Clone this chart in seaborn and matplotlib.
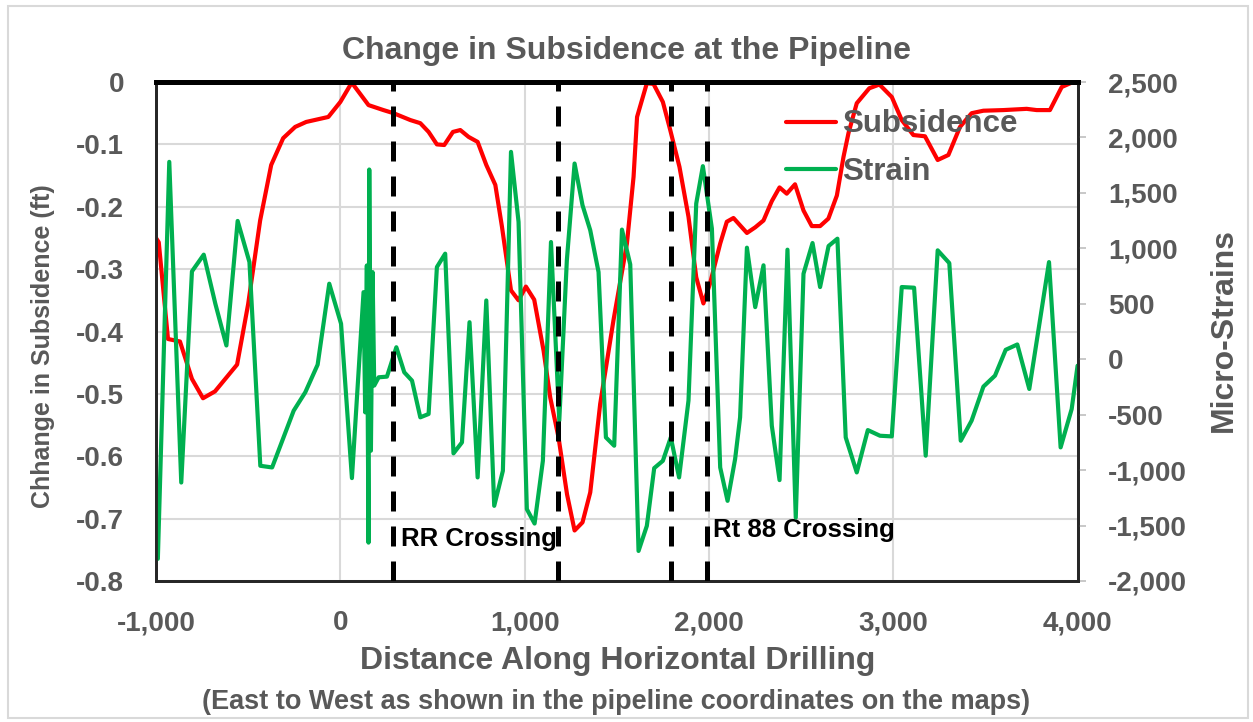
import matplotlib
matplotlib.use("Agg")
import matplotlib.pyplot as plt
import seaborn as sns
import pandas as pd
from matplotlib.patches import Rectangle

# subsidence along the pipeline (ft)
sub_x = [-1000, -985, -935, -870, -805, -745, -680, -560, -500, -435, -375, -310,
         -245, -185, -65, 0, 62, 153, 234, 289, 380, 434, 479, 524, 564, 611, 651,
         696, 745, 792, 841, 877, 926, 967, 1007, 1052, 1103, 1139, 1184, 1230,
         1271, 1314, 1356, 1410, 1482, 1555, 1591, 1610, 1663, 1699, 1750, 1790,
         1840, 1889, 1931, 1970, 2006, 2061, 2097, 2133, 2206, 2251, 2296, 2341,
         2383, 2422, 2467, 2513, 2558, 2603, 2648, 2694, 2730, 2757, 2802, 2870,
         2925, 2992, 3046, 3109, 3172, 3241, 3299, 3362, 3425, 3489, 3597, 3724,
         3778, 3850, 3914, 3968, 4000]
sub_y = [-0.250, -0.257, -0.412, -0.416, -0.476, -0.507, -0.496, -0.453, -0.356,
         -0.222, -0.133, -0.090, -0.072, -0.064, -0.056, -0.032, -0.001, -0.037,
         -0.045, -0.050, -0.061, -0.066, -0.080, -0.100, -0.101, -0.080, -0.077,
         -0.088, -0.096, -0.133, -0.165, -0.232, -0.334, -0.350, -0.328, -0.349,
         -0.431, -0.506, -0.570, -0.661, -0.719, -0.706, -0.658, -0.516, -0.382,
         -0.259, -0.152, -0.056, -0.002, -0.003, -0.032, -0.077, -0.136, -0.216,
         -0.313, -0.355, -0.323, -0.259, -0.224, -0.218, -0.242, -0.233, -0.222,
         -0.191, -0.169, -0.179, -0.164, -0.206, -0.231, -0.231, -0.219, -0.182,
         -0.120, -0.082, -0.034, -0.010, -0.004, -0.024, -0.061, -0.085, -0.087,
         -0.125, -0.117, -0.072, -0.050, -0.046, -0.045, -0.043, -0.045, -0.045,
         -0.008, -0.001, 0.0]

# strain along the pipeline (micro-strains)
strain_x = [-990, -928, -863, -805, -741, -678, -618, -557, -493, -434, -370, -253,
            -190, -123, -60, 4, 63, 126, 135, 144, 153, 157, 166, 175, 184, 208,
            253, 304, 347, 389, 434, 479, 524, 569, 614, 660, 701, 745, 792, 835,
            882, 926, 967, 1012, 1054, 1099, 1143, 1188, 1229, 1271, 1314, 1356,
            1401, 1441, 1486, 1528, 1573, 1618, 1663, 1703, 1750, 1793, 1838, 1889,
            1931, 1967, 2016, 2061, 2101, 2142, 2169, 2206, 2251, 2296, 2341, 2383,
            2426, 2471, 2513, 2562, 2603, 2649, 2697, 2742, 2802, 2862, 2928, 2992,
            3046, 3113, 3176, 3241, 3304, 3366, 3425, 3489, 3552, 3610, 3673, 3738,
            3845, 3908, 3968, 4000]
strain_y = [-1800, 1780, -1112, 792, 943, 500, 124, 1247, 876, -961, -976, -464,
            -298, -49, 681, 320, -1072, 605, -479, 846, -1654, 1711, -825, 786, -238,
            -163, -157, 108, -118, -193, -524, -494, 831, 952, -849, -750, 334,
            -1066, 530, -1322, -1006, 1870, 1238, -1352, -1482, -916, 1057, -554,
            892, 1765, 1389, 1163, 786, -705, -780, 1169, 855, -1729, -1503, -982,
            -916, -705, -1066, -373, 1404, 1741, 1178, -976, -1277, -900, -524, 1006,
            470, 847, -599, -1090, 988, -1428, 771, 1048, 651, 1021, 1087, -705,
            -1021, -639, -690, -696, 651, 645, -870, 982, 867, -735, -554, -247,
            -148, 85, 133, -268, 876, -795, -449, -58]

crossings = [285, 1180, 1795, 1990]
crossing_labels = ["RR Crossing", "Rt 88 Crossing"]

GRAY = "#595959"
RED = "#FF0000"
GREEN = "#00B050"

sns.set_theme(style="white")
plt.rcParams["font.family"] = ["Liberation Sans", "DejaVu Sans"]
plt.rcParams["font.weight"] = "bold"

sub_df = pd.DataFrame({"x": sub_x, "y": sub_y})
strain_df = pd.DataFrame({"x": strain_x, "y": strain_y})

fig = plt.figure(figsize=(12.53, 7.22), dpi=100)
ax = fig.add_axes([0.1245, 0.1953, 0.7355, 0.6911])
ax2 = ax.twinx()

sns.lineplot(data=sub_df, x="x", y="y", ax=ax, color=RED, lw=3,
             estimator=None, label="Subsidence", legend=False)
sns.lineplot(data=strain_df, x="x", y="y", ax=ax2, color=GREEN, lw=3,
             estimator=None, label="Strain", legend=False)

for cx in crossings:
    ax2.axvline(cx, color="black", lw=3.6, ls=(0, (4, 3)), zorder=5)

ax.set_xlim(-1000, 4000)
ax.set_ylim(-0.8, 0)
ax2.set_ylim(-2000, 2500)
ax.set_xticks(range(-1000, 4001, 1000))
ax.set_yticks([i / 10 for i in range(-8, 1)])
ax2.set_yticks(range(-2000, 2501, 500))
ax.set_xticklabels([f"{v:,}" for v in range(-1000, 4001, 1000)])
ax.set_yticklabels(["-0.8", "-0.7", "-0.6", "-0.5", "-0.4", "-0.3", "-0.2", "-0.1", "0"])
ax2.set_yticklabels([f"{v:,}" for v in range(-2000, 2501, 500)])

ax.grid(True, color="#D9D9D9", lw=1.5)
ax.set_axisbelow(True)
ax.tick_params(axis="y", length=0, pad=23, labelsize=20, labelcolor=GRAY)
ax.tick_params(axis="x", length=0, pad=21, labelsize=20, labelcolor=GRAY)
ax2.tick_params(axis="y", length=6, width=1.2, color="#BFBFBF", pad=16,
                labelsize=20, labelcolor=GRAY)
for lbl in ax.get_xticklabels() + ax.get_yticklabels() + ax2.get_yticklabels():
    lbl.set_fontweight("bold")
for a in (ax, ax2):
    for s in ("left", "right", "bottom"):
        a.spines[s].set_color("#262626")
        a.spines[s].set_linewidth(2)
    a.spines["top"].set_color("black")
    a.spines["top"].set_linewidth(3.5)

ax.set_xlabel("")
ax.set_ylabel("Chhange in Subsidence (ft)", fontsize=18, color=GRAY, fontweight="bold")
ax.yaxis.set_label_coords(-0.11, 0.471)
ax2.set_ylabel("Micro-Strains", fontsize=23, color=GRAY, fontweight="bold")
ax2.yaxis.set_label_coords(1.142, 0.503)

ax.text(331, -0.733, crossing_labels[0], fontsize=18.5, fontweight="bold",
        color="black", va="center", ha="left", zorder=6)
ax.text(2023, -0.718, crossing_labels[1], fontsize=18.5, fontweight="bold",
        color="black", va="center", ha="left", zorder=6)

h1, l1 = ax.get_legend_handles_labels()
h2, l2 = ax2.get_legend_handles_labels()
leg = ax2.legend(h1 + h2, l1 + l2, loc="upper left", bbox_to_anchor=(0.684, 0.945),
                 frameon=False, fontsize=22.5, handlelength=1.6, handletextpad=0.2,
                 labelspacing=0.55, borderpad=0, borderaxespad=0)
for t in leg.get_texts():
    t.set_color(GRAY)
    t.set_fontweight("bold")

fig.text(0.5, 0.929, "Change in Subsidence at the Pipeline", ha="center", va="center",
         fontsize=23, color=GRAY, fontweight="bold")
fig.text(0.493, 0.084, "Distance Along Horizontal Drilling", ha="center", va="center",
         fontsize=23, color=GRAY, fontweight="bold")
fig.text(0.492, 0.028, "(East to West as shown in the pipeline coordinates on the maps)",
         ha="center", va="center", fontsize=19.5, color=GRAY, fontweight="bold")

fig.patches.append(Rectangle((0.006, 0.006), 0.99, 0.986, transform=fig.transFigure,
                             fill=False, edgecolor="#D9D9D9", lw=1.5))

fig.savefig("out.png", dpi=100)
